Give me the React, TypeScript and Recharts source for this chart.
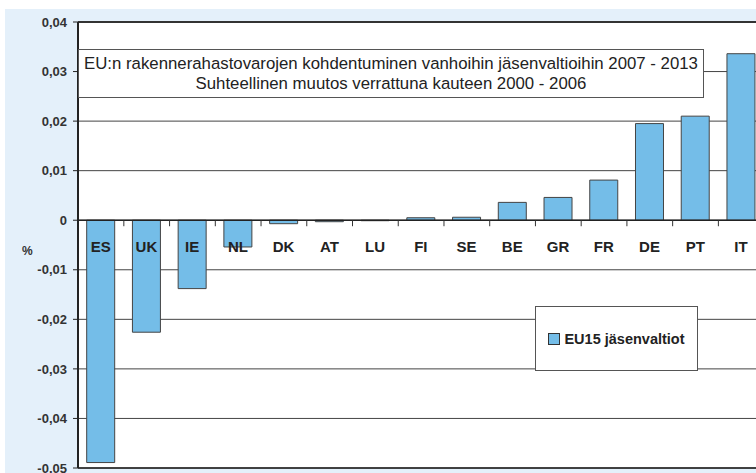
import { BarChart, Bar, XAxis, YAxis, CartesianGrid, ReferenceLine, Legend } from "recharts";

const countries = ["ES", "UK", "IE", "NL", "DK", "AT", "LU", "FI", "SE", "BE", "GR", "FR", "DE", "PT", "IT"];
const changes = [
  -0.0489, -0.0226, -0.0138, -0.0054, -0.0007, -0.0003, -0.0001, 0.0005, 0.0006, 0.0036, 0.0046, 0.0081,
  0.0195, 0.021, 0.0336,
];
const yTicks = [0.04, 0.03, 0.02, 0.01, 0, -0.01, -0.02, -0.03, -0.04, -0.05];

const seriesName = "EU15 jäsenvaltiot";
const titleLines = [
  "EU:n rakennerahastovarojen kohdentuminen vanhoihin jäsenvaltioihin 2007 - 2013",
  "Suhteellinen muutos verrattuna kauteen 2000 - 2006",
];

const BAR_COLOR = "#74bde8";
const GAP = 0.19;
const FONT = "Liberation Sans, Arial, sans-serif";

const chartData = countries.map((name, i) => ({ name, value: changes[i] }));

const formatTick = (v: number) => (v === 0 ? "0" : v.toFixed(2).replace(".", ","));

// draws the country name just under the zero line, plus the small tick mark between bands
const renderCountryLabel = (props: any) => {
  const vb = props.viewBox ?? {};
  const x = Number(props.x ?? vb.x);
  const y = Number(props.y ?? vb.y);
  const w = Number(props.width ?? vb.width);
  const h = Number(props.height ?? vb.height);
  const i = props.index;
  const v = changes[i];
  const zeroY = v < 0 && h > 0 ? y : y + h;
  const cx = x + w / 2;
  const band = w / (1 - 2 * GAP);
  return (
    <g key={`lbl-${i}`}>
      {i > 0 && <line x1={cx - band / 2} x2={cx - band / 2} y1={zeroY} y2={zeroY + 6} stroke="#333" />}
      <text x={cx} y={zeroY + 31.5} textAnchor="middle" fontFamily={FONT} fontWeight="bold" fontSize={15} fill="#222">
        {countries[i]}
      </text>
    </g>
  );
};

const LegendBox = () => (
  <div
    style={{
      width: 161,
      height: 63,
      border: "1px solid #555",
      background: "#fff",
      display: "flex",
      alignItems: "center",
      justifyContent: "center",
      fontFamily: FONT,
      fontWeight: "bold",
      fontSize: 14.5,
      color: "#222",
    }}
  >
    <span
      style={{
        display: "inline-block",
        width: 10,
        height: 10,
        background: BAR_COLOR,
        border: "1px solid #333",
        marginRight: 4,
      }}
    />
    {seriesName}
  </div>
);

export default function App() {
  return (
    <div style={{ position: "absolute", left: 0, top: 0, width: 756, height: 473, overflow: "hidden", background: "#fff" }}>
      <div style={{ position: "absolute", left: 5, top: 9, width: 751, height: 464, background: "#e4f0fa" }} />
      <div style={{ position: "absolute", left: 0, top: 0 }}>
        <BarChart
          width={764}
          height={473}
          data={chartData}
          margin={{ top: 22, right: 0, left: 0, bottom: 5 }}
          barCategoryGap={`${GAP * 100}%`}
        >
          <CartesianGrid vertical={false} stroke="#444" fill="#fff" />
          <XAxis dataKey="name" hide />
          <YAxis
            width={78}
            domain={[-0.05, 0.04]}
            ticks={yTicks}
            interval={0}
            tickFormatter={formatTick}
            axisLine={{ stroke: "#222", strokeWidth: 2 }}
            tickLine={{ stroke: "#222" }}
            tickSize={5}
            tickMargin={6}
            tick={{ fill: "#333", fontSize: 13, fontWeight: "bold", fontFamily: FONT }}
            label={{
              value: "%",
              position: "insideLeft",
              offset: 22,
              dy: 6,
              fill: "#333",
              fontSize: 12,
              fontWeight: "bold",
              fontFamily: FONT,
            }}
          />
          <ReferenceLine y={0.04} stroke="#333" strokeWidth={2} />
          <ReferenceLine y={-0.05} stroke="#222" strokeWidth={1.5} />
          <ReferenceLine y={0} stroke="#222" strokeWidth={1.5} />
          <Bar
            dataKey="value"
            name={seriesName}
            fill={BAR_COLOR}
            stroke="#444"
            strokeWidth={1}
            isAnimationActive={false}
            label={renderCountryLabel}
          />
          <Legend
            layout="vertical"
            align="center"
            verticalAlign="middle"
            content={() => <LegendBox />}
            wrapperStyle={{ left: 535, top: 306, width: 163, height: 65 }}
          />
        </BarChart>
      </div>
      <div
        style={{
          position: "absolute",
          left: 78,
          top: 49,
          width: 624,
          height: 47,
          border: "1px solid #555",
          background: "#fff",
          display: "flex",
          flexDirection: "column",
          justifyContent: "center",
          alignItems: "center",
          fontFamily: FONT,
          fontSize: 16.8,
          lineHeight: "20px",
          color: "#222",
          whiteSpace: "nowrap",
        }}
      >
        {titleLines.map((t) => (
          <div key={t}>{t}</div>
        ))}
      </div>
    </div>
  );
}
